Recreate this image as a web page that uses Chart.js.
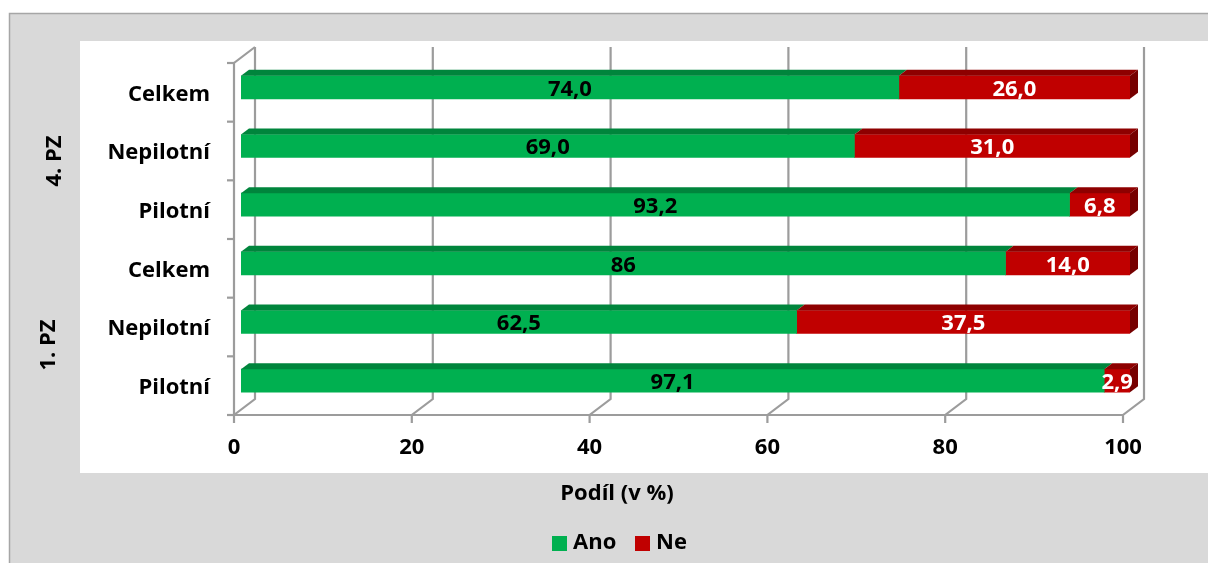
<!DOCTYPE html>
<html>
<head>
<meta charset="utf-8">
<script src="https://cdn.jsdelivr.net/npm/chart.js@4/dist/chart.umd.min.js"></script>
<style>
  html, body { margin: 0; padding: 0; background: #ffffff; overflow: hidden; }
  #wrap { width: 1208px; height: 563px; position: relative; }
</style>
</head>
<body>
<div id="wrap"><canvas id="c" width="1208" height="563"></canvas></div>
<script>
// ---- data ----
const categories = ["Celkem", "Nepilotní", "Pilotní", "Celkem", "Nepilotní", "Pilotní"];
const groups = ["4. PZ", "1. PZ"];
const anoValues = [74.0, 69.0, 93.2, 86, 62.5, 97.1];
const neValues  = [26.0, 31.0, 6.8, 14.0, 37.5, 2.9];
const anoLabels = ["74,0", "69,0", "93,2", "86", "62,5", "97,1"];
const neLabels  = ["26,0", "31,0", "6,8", "14,0", "37,5", "2,9"];
const xTicks = [0, 20, 40, 60, 80, 100];
const seriesNames = ["Ano", "Ne"];
const axisTitle = "Podíl (v %)";

const FONT = "bold 22px 'Open Sans', Lato, sans-serif";
const GRID = "#9c9c9c";
// 3D plane offsets relative to the bar plane
const FRONT = { dx: -7, dy: 5 };
const BACK = { dx: 14, dy: -11 };
const DEPTH = { dx: 8, dy: -6 };

const framePlugin = {
  id: 'frame',
  beforeDraw(chart) {
    const ctx = chart.ctx;
    ctx.save();
    ctx.fillStyle = '#ffffff';
    ctx.fillRect(0, 0, 1208, 563);
    ctx.fillStyle = '#d9d9d9';
    ctx.fillRect(9, 13, 1199, 550);
    ctx.strokeStyle = '#a6a6a6';
    ctx.lineWidth = 1.5;
    ctx.beginPath();
    ctx.moveTo(9.5, 563); ctx.lineTo(9.5, 13.5); ctx.lineTo(1208, 13.5);
    ctx.stroke();
    ctx.fillStyle = '#ffffff';
    ctx.fillRect(80, 41, 1128, 432);
    ctx.restore();
  },
  beforeDatasetsDraw(chart) {
    const ctx = chart.ctx;
    const xs = chart.scales.x;
    const top = chart.chartArea.top, bottom = chart.chartArea.bottom;
    ctx.save();
    ctx.strokeStyle = GRID;
    ctx.lineWidth = 2.2;
    ctx.lineCap = 'butt';
    xTicks.forEach(v => {
      const x = xs.getPixelForValue(v);
      ctx.beginPath();
      ctx.moveTo(x + BACK.dx, top + BACK.dy);
      ctx.lineTo(x + BACK.dx, bottom + BACK.dy);
      ctx.lineTo(x + FRONT.dx, bottom + FRONT.dy);
      ctx.lineTo(x + FRONT.dx, bottom + FRONT.dy + 8);
      ctx.stroke();
    });
    const x0 = xs.getPixelForValue(0);
    ctx.beginPath();
    ctx.moveTo(x0 + BACK.dx, top + BACK.dy);
    ctx.lineTo(x0 + FRONT.dx, top + FRONT.dy);
    ctx.lineTo(x0 + FRONT.dx, bottom + FRONT.dy);
    ctx.stroke();
    ctx.beginPath();
    ctx.moveTo(x0 + FRONT.dx - 7, bottom + FRONT.dy);
    ctx.lineTo(xs.getPixelForValue(100) + FRONT.dx, bottom + FRONT.dy);
    ctx.stroke();
    const n = categories.length;
    const step = (bottom - top) / n;
    for (let i = 0; i <= n; i++) {
      const y = top + i * step + FRONT.dy;
      ctx.beginPath();
      ctx.moveTo(x0 + FRONT.dx - 7, y);
      ctx.lineTo(x0 + FRONT.dx, y);
      ctx.stroke();
    }
    ctx.restore();
  },
  afterDatasetsDraw(chart) {
    const ctx = chart.ctx;
    const xs = chart.scales.x, ys = chart.scales.y;
    const topColors = ['#00853c', '#8e0000'];
    const sideColors = ['#006b30', '#760000'];
    const metas = [chart.getDatasetMeta(0), chart.getDatasetMeta(1)];
    ctx.save();
    metas.forEach((meta, di) => {
      meta.data.forEach((el) => {
        const x1 = Math.min(el.base, el.x), x2 = Math.max(el.base, el.x);
        const t = el.y - el.height / 2, b = el.y + el.height / 2;
        ctx.fillStyle = topColors[di];
        ctx.beginPath();
        ctx.moveTo(x1, t); ctx.lineTo(x2, t);
        ctx.lineTo(x2 + DEPTH.dx, t + DEPTH.dy); ctx.lineTo(x1 + DEPTH.dx, t + DEPTH.dy);
        ctx.closePath(); ctx.fill();
        if (di === metas.length - 1) {
          ctx.fillStyle = sideColors[di];
          ctx.beginPath();
          ctx.moveTo(x2, t); ctx.lineTo(x2 + DEPTH.dx, t + DEPTH.dy);
          ctx.lineTo(x2 + DEPTH.dx, b + DEPTH.dy); ctx.lineTo(x2, b);
          ctx.closePath(); ctx.fill();
        }
      });
    });
    ctx.font = FONT;
    ctx.textAlign = 'center';
    ctx.textBaseline = 'middle';
    const labelSets = [anoLabels, neLabels];
    const labelColors = ['#000000', '#ffffff'];
    metas.forEach((meta, di) => {
      meta.data.forEach((el, i) => {
        ctx.fillStyle = labelColors[di];
        ctx.fillText(labelSets[di][i], (el.x + el.base) / 2, el.y + 2);
      });
    });
    ctx.fillStyle = '#000000';
    ctx.textAlign = 'right';
    categories.forEach((c, i) => {
      ctx.fillText(c, 210, ys.getPixelForValue(i) + 7);
    });
    const gpos = [[55, 161], [49, 345]];
    groups.forEach((g, i) => {
      ctx.save();
      ctx.translate(gpos[i][0], gpos[i][1]);
      ctx.rotate(-Math.PI / 2);
      ctx.textAlign = 'center';
      ctx.fillText(g, 0, 0);
      ctx.restore();
    });
    ctx.textAlign = 'center';
    xTicks.forEach(v => {
      ctx.fillText(String(v), xs.getPixelForValue(v) + FRONT.dx, 448);
    });
    ctx.fillText(axisTitle, 617, 494);
    const colors = ['#00b050', '#c00000'];
    const lx = [552, 635];
    ctx.textAlign = 'left';
    seriesNames.forEach((s, i) => {
      ctx.fillStyle = colors[i];
      ctx.fillRect(lx[i], 536, 15, 15);
      ctx.fillStyle = '#000000';
      ctx.fillText(s, lx[i] + 21, 543);
    });
    ctx.restore();
  }
};

new Chart(document.getElementById('c'), {
  type: 'bar',
  data: {
    labels: categories,
    datasets: [
      { label: seriesNames[0], data: anoValues, backgroundColor: '#00b050', borderWidth: 0, barThickness: 23 },
      { label: seriesNames[1], data: neValues, backgroundColor: '#c00000', borderWidth: 0, barThickness: 23 }
    ]
  },
  options: {
    indexAxis: 'y',
    responsive: false,
    animation: false,
    devicePixelRatio: 1,
    layout: { padding: { left: 241, right: 78, top: 58, bottom: 153 } },
    scales: {
      x: { stacked: true, min: 0, max: 100, display: false },
      y: { stacked: true, display: false }
    },
    plugins: { legend: { display: false }, tooltip: { enabled: false } }
  },
  plugins: [framePlugin]
});
</script>
</body>
</html>
